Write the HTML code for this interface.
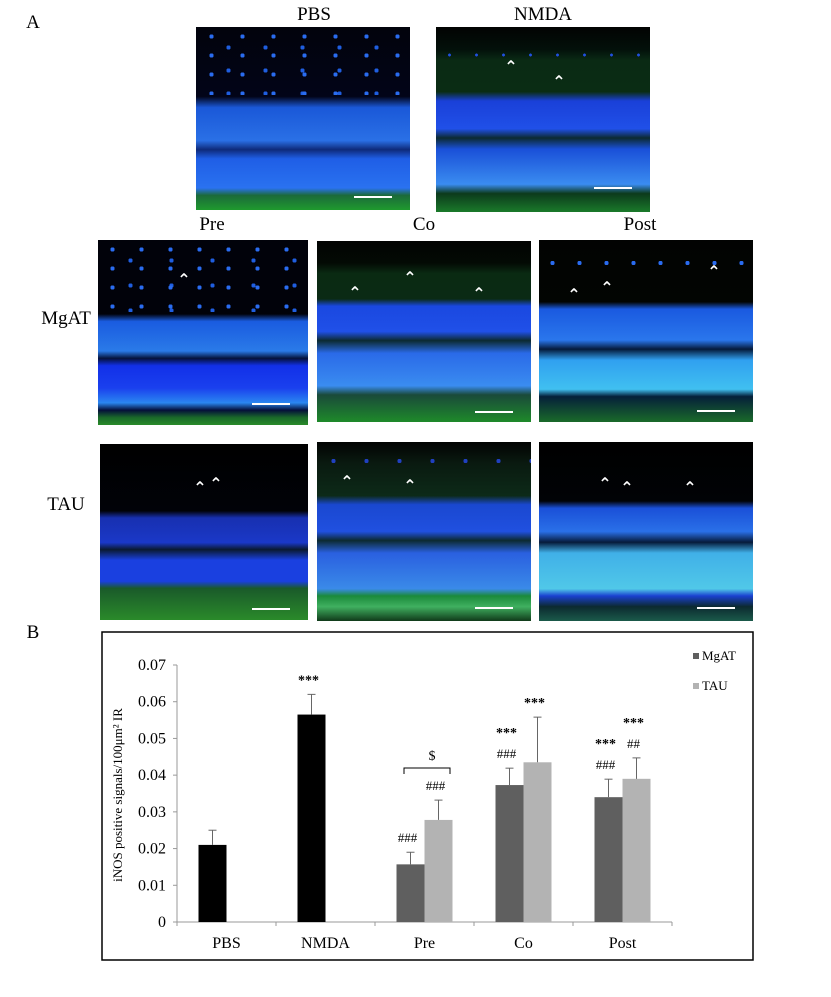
<!DOCTYPE html>
<html><head><meta charset="utf-8">
<style>
body{margin:0;background:#fff;width:831px;height:997px;position:relative;overflow:hidden;font-family:"Liberation Serif",serif;}
.lbl{position:absolute;font-size:19px;color:#000;transform:translateX(-50%);}
.p{position:absolute;overflow:hidden;}
.dots{position:absolute;left:0;right:0;top:0;}
.sb{position:absolute;height:2px;background:#fff;width:38px;right:18px;}
.ar{position:absolute;color:#fff;font-size:16px;font-weight:bold;font-family:"DejaVu Sans",sans-serif;transform:translateX(-50%);}
</style></head><body>
<div class="lbl" style="left:33px;top:12px;">A</div>
<div class="lbl" style="left:314px;top:4px;">PBS</div>
<div class="lbl" style="left:543px;top:4px;">NMDA</div>
<div class="lbl" style="left:212px;top:214px;">Pre</div>
<div class="lbl" style="left:424px;top:214px;">Co</div>
<div class="lbl" style="left:640px;top:214px;">Post</div>
<div class="lbl" style="left:66px;top:308px;">MgAT</div>
<div class="lbl" style="left:66px;top:494px;">TAU</div>

<div class="p" style="left:196px;top:27px;width:214px;height:183px;background:linear-gradient(#02030c 0%,#020418 38%,#1a58d8 44%,#2a70e6 62%,#0e2a7a 67%,#1f5ee6 72%,#2a72f0 88%,#1b6a3a 92%,#1f9a2e 100%);">
<div class="dots" style="height:68px;background:radial-gradient(circle 3px,#2a6cf0 70%,transparent 75%) 0 0/31px 19px,radial-gradient(circle 3px,#1f5ee0 70%,transparent 75%) 14px 9px/37px 23px;"></div>
<div class="sb" style="top:169px;"></div></div>

<div class="p" style="left:436px;top:27px;width:214px;height:185px;background:linear-gradient(#020302 0%,#03100a 12%,#0a2a14 18%,#0a2c14 35%,#1a40d8 40%,#2050e8 55%,#0c2a30 60%,#1a50d8 66%,#3a8cf0 85%,#0c3a1c 90%,#1a7a2a 100%);">
<div class="dots" style="top:22px;height:14px;background:radial-gradient(circle 2px,#2050e0 70%,transparent 75%) 0 0/27px 12px;"></div>
<div class="ar" style="left:75px;top:30px;">⌃</div><div class="ar" style="left:123px;top:45px;">⌃</div>
<div class="sb" style="top:160px;"></div></div>

<div class="p" style="left:98px;top:240px;width:210px;height:185px;background:linear-gradient(#01020a 0%,#01020a 40%,#1a5ce0 44%,#2a7ae8 60%,#05123a 64%,#1230e8 68%,#1a40ee 80%,#2a86f0 88%,#05103a 92%,#1a6a2a 96%,#2a8a2a 100%);">
<div class="dots" style="height:72px;background:radial-gradient(circle 3px,#2a6cf0 70%,transparent 75%) 0 0/29px 19px,radial-gradient(circle 3px,#1f5ee0 70%,transparent 75%) 12px 8px/41px 25px;"></div>
<div class="ar" style="left:86px;top:30px;">⌃</div>
<div class="sb" style="top:163px;"></div></div>

<div class="p" style="left:317px;top:241px;width:214px;height:181px;background:linear-gradient(#020302 0%,#030a04 12%,#0a2a12 18%,#0a2a14 32%,#1a48e0 36%,#2050e8 50%,#0c2a30 55%,#2a6ae8 62%,#3a8cf0 80%,#1a4a3a 85%,#1e8a2a 100%);">
<div class="ar" style="left:38px;top:42px;">⌃</div><div class="ar" style="left:93px;top:27px;">⌃</div><div class="ar" style="left:162px;top:43px;">⌃</div>
<div class="sb" style="top:170px;"></div></div>

<div class="p" style="left:539px;top:240px;width:214px;height:182px;background:linear-gradient(#020302 0%,#020502 34%,#1a5ae0 38%,#2a76ec 55%,#051a3a 60%,#30a0f0 66%,#40c0f0 82%,#05203a 86%,#1a6a2a 100%);">
<div class="dots" style="top:18px;height:10px;background:radial-gradient(circle 3px,#2a6cf0 70%,transparent 75%) 0 0/27px 10px;"></div>
<div class="ar" style="left:35px;top:45px;">⌃</div><div class="ar" style="left:68px;top:38px;">⌃</div><div class="ar" style="left:175px;top:22px;">⌃</div>
<div class="sb" style="top:170px;"></div></div>

<div class="p" style="left:100px;top:444px;width:208px;height:176px;background:linear-gradient(#000 0%,#010208 38%,#1830b0 42%,#1a38c8 56%,#0a1a30 60%,#1a40e0 66%,#1a40e0 78%,#1a5a2a 82%,#2a8a2a 100%);">
<div class="ar" style="left:100px;top:34px;">⌃</div><div class="ar" style="left:116px;top:30px;">⌃</div>
<div class="sb" style="top:164px;"></div></div>

<div class="p" style="left:317px;top:442px;width:214px;height:179px;background:linear-gradient(#020302 0%,#0a1a10 12%,#0c2a18 30%,#1a48d0 35%,#2050e0 50%,#0c2a30 55%,#2a60e0 62%,#3a8ae8 82%,#1a8a3a 86%,#40b060 92%,#103a1a 100%);">
<div class="dots" style="top:8px;height:22px;background:radial-gradient(circle 3px,#2040c0 70%,transparent 75%) 0 0/33px 22px;"></div>
<div class="ar" style="left:30px;top:30px;">⌃</div><div class="ar" style="left:93px;top:34px;">⌃</div>
<div class="sb" style="top:165px;"></div></div>

<div class="p" style="left:539px;top:442px;width:214px;height:179px;background:linear-gradient(#000 0%,#010306 33%,#1a50d8 37%,#2a70e8 50%,#061a3a 56%,#40b0e8 62%,#50c8e8 82%,#1a40d0 86%,#0c2a30 92%,#1a5a4a 100%);">
<div class="ar" style="left:66px;top:32px;">⌃</div><div class="ar" style="left:88px;top:36px;">⌃</div><div class="ar" style="left:151px;top:36px;">⌃</div>
<div class="sb" style="top:165px;"></div></div>

<div class="lbl" style="left:33px;top:622px;">B</div>

<svg id="chart" width="831" height="997" style="position:absolute;left:0;top:0;" font-family="Liberation Serif, serif">
<rect x="102" y="632" width="651" height="328" fill="none" stroke="#000" stroke-width="1.5"/>
</svg>
<script>
const categories=["PBS","NMDA","Pre","Co","Post"];
const seriesNames=["MgAT","TAU"];
const controlValues=[0.021,0.0565,null,null,null];
const controlErrors=[0.025,0.062,null,null,null];
const mgatValues=[null,null,0.0157,0.0373,0.034];
const mgatErrors=[null,null,0.019,0.0419,0.0389];
const tauValues=[null,null,0.0278,0.0435,0.039];
const tauErrors=[null,null,0.0332,0.0558,0.0447];
const yTicks=[0,0.01,0.02,0.03,0.04,0.05,0.06,0.07];
const tickLabels=["0","0.01","0.02","0.03","0.04","0.05","0.06","0.07"];
const mgatAnnot=[[],["***"],["###"],["***","###"],["***","###"]];
const tauAnnot=[[],[],["###"],["***"],["***","##"]];

const svg=document.getElementById('chart');
const NS="http://www.w3.org/2000/svg";
const x0=177,cw=99,bw=28,y0=922,yTop=665,ymax=0.07;
const Y=v=>y0-(v/ymax)*(y0-yTop);
const slot=(i,s)=>x0+i*cw+cw/2-bw+s*bw;
function mk(t,a,txt){const e=document.createElementNS(NS,t);for(const k in a)e.setAttribute(k,a[k]);if(txt!=null)e.textContent=txt;svg.appendChild(e);return e;}

let e=mk('line',{x1:x0,y1:yTop,x2:x0,y2:y0,stroke:'#999'});


e=mk('line',{x1:x0,y1:y0,x2:x0+cw*5,y2:y0,stroke:'#999'});


yTicks.forEach((v,i)=>{
  mk('line',{x1:x0-4,y1:Y(v),x2:x0,y2:Y(v),stroke:'#999'});
  e=mk('text',{x:166,y:Y(v)+5,'text-anchor':'end','font-size':'16'},tickLabels[i]);
  
  
});
for(let i=0;i<=5;i++)mk('line',{x1:x0+i*cw,y1:y0,x2:x0+i*cw,y2:y0+4,stroke:'#999'});
categories.forEach((c,i)=>{
  e=mk('text',{x:x0+i*cw+cw/2,y:948,'text-anchor':'middle','font-size':'16'},c);
  
  
});
function bars(vals,errs,s,color,nm){
  vals.forEach((v,i)=>{
    if(v==null)return;
    const x=slot(i,s);
    e=mk('rect',{x:x,y:Y(v),width:bw,height:y0-Y(v),fill:color});
    
    
    const cx=x+bw/2;
    mk('line',{x1:cx,y1:Y(v),x2:cx,y2:Y(errs[i]),stroke:'#666'});
    mk('line',{x1:cx-4,y1:Y(errs[i]),x2:cx+4,y2:Y(errs[i]),stroke:'#666'});
  });
}
bars(controlValues,controlErrors,0,'#000','control');
bars(mgatValues,mgatErrors,0,'#5f5f5f','mgat');
bars(tauValues,tauErrors,1,'#b3b3b3','tau');
function annot(arr,errs,s,altErr){
  arr.forEach((lst,i)=>{
    if(!lst.length)return;
    const top=Y(errs[i]!=null?errs[i]:altErr[i]);
    const cx=slot(i,s)+bw/2;
    lst.slice().reverse().forEach((t,k)=>{
      e=mk('text',{x:cx-3,y:top-10-k*21,'text-anchor':'middle','font-size':t.startsWith('*')?'14':'13','font-weight':t.startsWith('*')?'bold':'normal'},t);
      
      
    });
  });
}
annot(mgatAnnot,mgatErrors,0,controlErrors);
annot(tauAnnot,tauErrors,1,controlErrors);
e=mk('path',{d:'M404,774 V768 H450 V774',fill:'none',stroke:'#000'});


e=mk('text',{x:432,y:760,'text-anchor':'middle','font-size':'14'},'$');


e=mk('text',{x:0,y:0,transform:'translate(122,795) rotate(-90)','text-anchor':'middle','font-size':'13'},'iNOS positive  signals/100μm²  IR');


const legColors=['#5f5f5f','#b3b3b3'];
seriesNames.forEach((n,i)=>{
  e=mk('rect',{x:693,y:653+i*30,width:6,height:6,fill:legColors[i]});
  
  
  e=mk('text',{x:702,y:660+i*30,'font-size':'13'},n);
  
  
});
</script>
</body></html>
